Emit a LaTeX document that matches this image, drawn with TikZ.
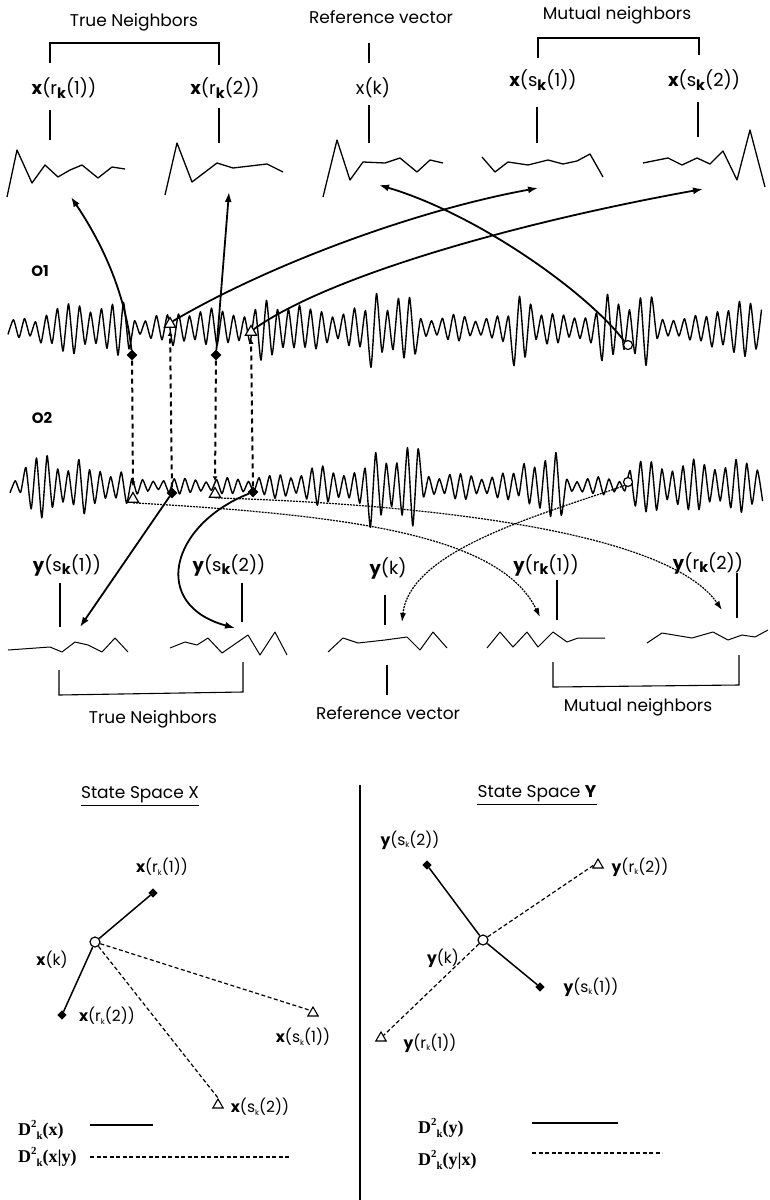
\documentclass[tikz,border=0pt]{standalone}
\usepackage{fontspec}
\usepackage{graphicx}
\setmainfont{Poppins}
\newfontfamily\serifb{Liberation Serif}
\usetikzlibrary{arrows.meta,shapes.geometric}
\newcommand{\vsub}[1]{\raisebox{-0.35ex}{\scalebox{0.8}{\textbf{#1}}}}
\newcommand{\ssub}[1]{\raisebox{-0.3ex}{\scalebox{0.5}{#1}}}
\newcommand{\Dk}[1]{{\serifb\bfseries D\raisebox{0.9ex}{\scalebox{0.6}{2}}\raisebox{-0.45ex}{\scalebox{0.6}{k}}(#1)}}
\begin{document}
\begin{tikzpicture}[x=1pt,y=-1pt,
  declare function={
    eA(\x) = 1.3*(7 + 13*(\x>40)*(\x<130) + 3*(\x>130)*(\x<170) + 8*(\x>170)*(\x<260)
      + 17*(\x>260)*(\x<300) + 9*(\x>300)*(\x<370) + 32*(\x>370)*(\x<385)
      + 17*(\x>385)*(\x<420) + 3*(\x>420)*(\x<510) + 28*(\x>510)*(\x<535)
      + 5*(\x>535)*(\x<600) + 20*(\x>600)*(\x<655) + 3*(\x>655)*(\x<710) + 14*(\x>710));
    eB(\x) = 1.3*(8 + 15*(\x>25)*(\x<85) + 6*(\x>85)*(\x<130) - 2*(\x>130)*(\x<250)
      + 1*(\x>250)*(\x<300) + 7*(\x>300)*(\x<370) + 24*(\x>370)*(\x<420)
      + 2*(\x>420)*(\x<520) + 17*(\x>520)*(\x<565) - 1*(\x>565)*(\x<625) + 13*(\x>625));
    sg(\n) = 1-2*mod(round(\n),2);
    mf(\n) = 0.68 + 0.22*sin(41*\n) + 0.18*rnd;
  },
  wave/.style={line width=1.4pt, line join=round},
  vec/.style={line width=1.3pt, line join=round},
  bvec/.style={line width=1.0pt, line join=round},
  brk/.style={line width=1.1pt},
  arr/.style={line width=1.8pt, -{Latex[length=10pt,width=7pt]}},
  darr/.style={line width=1.2pt, dash pattern=on 2pt off 1pt, -{Latex[length=9pt,width=6pt]}},
  vd/.style={line width=2pt, dash pattern=on 5pt off 4pt, -{Latex[length=5pt,width=5pt]}},
  dmd/.style={rectangle, rotate=45, fill=black, inner sep=0pt, minimum size=7.5pt},
  sdmd/.style={rectangle, rotate=45, fill=black, inner sep=0pt, minimum size=6.5pt},
  tri/.style={regular polygon, regular polygon sides=3, draw, line width=1.2pt, fill=white, inner sep=0pt, minimum size=13pt},
  circ/.style={circle, draw, line width=1.2pt, fill=white, inner sep=0pt, minimum size=9pt},
  head/.style={font=\fontsize{17}{20}\selectfont, inner sep=0pt},
  lbl/.style={font=\fontsize{18}{20}\selectfont, inner sep=0pt},
  sig/.style={font=\bfseries\fontsize{15}{18}\selectfont, inner sep=0pt},
  ss/.style={font=\fontsize{17}{19}\selectfont, inner sep=0pt},
  sl/.style={font=\fontsize{15.5}{17}\selectfont, inner sep=0pt},
  leg/.style={font=\fontsize{18}{20}\selectfont, inner sep=0pt, anchor=west},
  sdash/.style={line width=1.2pt, dash pattern=on 4pt off 2.5pt},
  ssol/.style={line width=1.5pt}
]
\useasboundingbox (0,0) rectangle (770,1200);
\pgfmathsetseed{7}

% ---------- top headers ----------
\node[head] (tn) at (134,22) {True Neighbors};
\node[head] (rv) at (381,17) {Reference vector};
\node[head] (mn) at (617,15) {Mutual neighbors};
\draw[brk] (50,63) -- (50,43) -- (219,43) -- (219,65);
\draw[brk] (538,58) -- (538,38) -- (699,38) -- (699,55);
\draw[brk] (369,43) -- (369,63);

\node[lbl] (xr1) at (64,88) {\textbf{x}(r\vsub{k}(1))};
\node[lbl] (xr2) at (225,88) {\textbf{x}(r\vsub{k}(2))};
\node[lbl] (xk)  at (373,88) {x(k)};
\node[lbl] (xs1) at (543,80) {\textbf{x}(s\vsub{k}(1))};
\node[lbl] (xs2) at (704,80) {\textbf{x}(s\vsub{k}(2))};
\draw[brk] (50,110) -- (50,140);
\draw[brk] (219,108) -- (219,143);
\draw[brk] (369,105) -- (369,143);
\draw[brk] (537,107) -- (537,143);
\draw[brk] (698,102) -- (698,137);

% top embedded vectors
\draw[vec] (7,197) -- (17,150) -- (32,183) -- (45,165) -- (58,177) -- (70,170) -- (82,165) -- (98,178) -- (112,167) -- (125,169);
\draw[vec] (165,195) -- (177,143) -- (192,182) -- (217,163) -- (233,168) -- (267,164) -- (283,172);
\draw[vec] (323,197) -- (337,140) -- (350,180) -- (363,162) -- (385,163) -- (400,158) -- (417,172) -- (430,160) -- (443,163);
\draw[vec] (482,157) -- (495,172) -- (508,162) -- (528,165) -- (548,160) -- (563,164) -- (577,161) -- (590,154) -- (603,177);
\draw[vec] (643,163) -- (668,158) -- (682,165) -- (697,158) -- (710,164) -- (723,151) -- (737,180) -- (750,130) -- (765,187);

% ---------- signals ----------
\node[sig] (o1) at (40,271) {O1};
\node[sig] (o2) at (42,418) {O2};
\draw[wave] plot[smooth, tension=0.35, variable=\t, domain=0:137, samples=138]
  ({8+5.5*\t}, {328 + sg(\t)*eA(8+5.5*\t)*mf(\t)});
\draw[wave] plot[smooth, tension=0.35, variable=\t, domain=0:142, samples=143]
  ({10+5.3*\t}, {486 + sg(\t)*eB(10+5.3*\t)*mf(\t+5)});

% markers on O1
\node[dmd] (d1) at (132,355) {};
\node[dmd] (d2) at (216,355) {};
\node[tri] (t1) at (170,324) {};
\node[tri] (t2) at (251,332) {};
\node[circ] (c1) at (628,345) {};
% markers on O2
\node[tri] (u1) at (133,499) {};
\node[tri] (u2) at (215,494) {};
\node[dmd] (e1) at (172,493) {};
\node[dmd] (e2) at (253,492) {};
\node[circ] (c2) at (628,482) {};

% vertical dashed links
\draw[vd, shorten >=5pt] (d1) -- (u1.north);
\draw[vd, shorten >=3pt] (e1) -- (t1.south);
\draw[vd, shorten >=5pt] (d2) -- (u2.north);
\draw[vd, shorten >=3pt] (e2) -- (t2.south);

% arrow end points
\coordinate (a1) at (71,197);
\coordinate (a2) at (229,192);
\coordinate (a3) at (538,188);
\coordinate (a4) at (703,189);
\coordinate (a5) at (379,185);
\coordinate (b1) at (80,627);
\coordinate (b2) at (235,628);
\coordinate (b3) at (540,617);
\coordinate (b4) at (722,610);
\coordinate (b5) at (402,622);

% upper arrows
\draw[arr] (d1) .. controls (125,290) and (100,240) .. (a1);
\draw[arr] (d2) -- (a2);
\draw[arr] (t1.north east) .. controls (270,264) and (417,210) .. (a3);
\draw[arr] (t2.north east) .. controls (330,275) and (520,222) .. (a4);
\draw[arr] (c1.north west) .. controls (590,295) and (480,215) .. (a5);

% lower arrows
\draw[arr] (e1) -- (b1);
\draw[arr] (e2) .. controls (170,525) and (150,605) .. (b2);
\draw[darr] (u1.south) .. controls (350,515) and (500,535) .. (b3);
\draw[darr] (u2.south) .. controls (450,505) and (670,535) .. (b4);
\draw[darr] (c2.south west) .. controls (540,515) and (410,550) .. (b5);

% ---------- bottom labels ----------
\node[lbl] (ys1) at (67,565) {\textbf{y}(s\vsub{k}(1))};
\node[lbl] (ys2) at (229,565) {\textbf{y}(s\vsub{k}(2))};
\node[lbl] (yk)  at (388,568) {\textbf{y}(k)};
\node[lbl] (yr1) at (546,565) {\textbf{y}(r\vsub{k}(1))};
\node[lbl] (yr2) at (708,563) {\textbf{y}(r\vsub{k}(2))};
\draw[brk] (60,583) -- (60,627);
\draw[brk] (242,583) -- (242,622);
\draw[brk] (385,595) -- (385,625);
\draw[brk] (557,580) -- (557,620);
\draw[brk] (737,573) -- (737,618);

\draw[bvec] (8,650) -- (50,647) -- (62,652) -- (75,642) -- (88,645) -- (102,652) -- (115,638) -- (128,652);
\draw[bvec] (170,648) -- (185,642) -- (197,645) -- (208,638) -- (222,653) -- (248,635) -- (260,655) -- (275,632) -- (287,655);
\draw[bvec] (328,652) -- (343,638) -- (358,643) -- (385,640) -- (407,637) -- (420,650) -- (433,632) -- (447,648);
\draw[bvec] (487,648) -- (500,632) -- (513,647) -- (527,632) -- (538,647) -- (553,632) -- (567,642) -- (578,638) -- (605,638);
\draw[bvec] (647,643) -- (662,633) -- (692,638) -- (713,632) -- (728,640) -- (742,635) -- (755,637) -- (768,630);

\draw[brk] (59,670) -- (59,695) -- (243,692) -- (243,662);
\draw[brk] (387,665) -- (387,695);
\draw[brk] (553,662) -- (553,687) -- (739,685) -- (739,655);
\node[head] (tn2) at (153,719) {True Neighbors};
\node[head] (rv2) at (388,713) {Reference vector};
\node[head] (mn2) at (638,707) {Mutual neighbors};

% ---------- state spaces ----------
\draw[line width=1.3pt] (360,785) -- (360,1200);
\node[ss] (ssx) at (140,795) {State Space X};
\draw[line width=0.9pt] ([yshift=-2pt]ssx.south west) -- ([yshift=-2pt]ssx.south east);
\node[ss] (ssy) at (537,794) {State Space \textbf{Y}};
\draw[line width=0.9pt] ([yshift=-2pt]ssy.south west) -- ([yshift=-2pt]ssy.south east);

% state space X
\node[circ, minimum size=10pt] (cx) at (95,942) {};
\node[sdmd] (xd1) at (153,893) {};
\node[sdmd] (xd2) at (62,1015) {};
\node[tri, minimum size=12pt, line width=1.1pt] (xt1) at (313,1013) {};
\node[tri, minimum size=12pt, line width=1.1pt] (xt2) at (218,1105) {};
\draw[ssol] (cx) -- (xd1);
\draw[ssol] (cx) -- (xd2);
\draw[sdash] (cx) -- (xt1.north west);
\draw[sdash] (cx) -- (xt2.north);
\node[sl] (lxr1) at (162,867) {\textbf{x}(r\ssub{k}(1))};
\node[sl] (lxk)  at (52,960) {\textbf{x}(k)};
\node[sl] (lxr2) at (107,1016) {\textbf{x}(r\ssub{k}(2))};
\node[sl] (lxs1) at (303,1037) {\textbf{x}(s\ssub{k}(1))};
\node[sl] (lxs2) at (260,1107) {\textbf{x}(s\ssub{k}(2))};
\node[leg] (lgx1) at (18,1130) {\Dk{x}};
\node[leg] (lgx2) at (18,1157) {\Dk{x|y}};
\coordinate (lx1a) at (90,1125); \coordinate (lx1b) at (153,1125);
\coordinate (lx2a) at (90,1157); \coordinate (lx2b) at (290,1157);
\draw[ssol] (lx1a) -- (lx1b);
\draw[sdash] (lx2a) -- (lx2b);

% state space Y
\node[circ, minimum size=10pt] (cy) at (483,940) {};
\node[sdmd] (yd2) at (427,865) {};
\node[sdmd] (yd1) at (540,987) {};
\node[tri, minimum size=12pt, line width=1.1pt] (yt2) at (598,865) {};
\node[tri, minimum size=12pt, line width=1.1pt] (yt1) at (381,1038) {};
\draw[ssol] (cy) -- (yd2);
\draw[ssol] (cy) -- (yd1);
\draw[sdash] (cy) -- (yt2.west);
\draw[sdash] (cy) -- (yt1.north east);
\node[sl] (lys2) at (410,840) {\textbf{y}(s\ssub{k}(2))};
\node[sl] (lyr2) at (640,867) {\textbf{y}(r\ssub{k}(2))};
\node[sl] (lyk)  at (443,958) {\textbf{y}(k)};
\node[sl] (lys1) at (591,987) {\textbf{y}(s\ssub{k}(1))};
\node[sl] (lyr1) at (430,1043) {\textbf{y}(r\ssub{k}(1))};
\node[leg] (lgy1) at (418,1128) {\Dk{y}};
\node[leg] (lgy2) at (418,1160) {\Dk{y|x}};
\coordinate (ly1a) at (532,1123); \coordinate (ly1b) at (618,1123);
\coordinate (ly2a) at (532,1153); \coordinate (ly2b) at (662,1153);
\draw[ssol] (ly1a) -- (ly1b);
\draw[sdash] (ly2a) -- (ly2b);
\end{tikzpicture}
\end{document}
